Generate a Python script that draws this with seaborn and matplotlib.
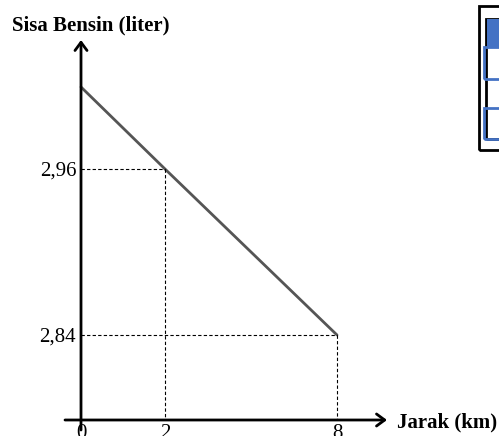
import numpy as np
import matplotlib
matplotlib.use("Agg")
import matplotlib.pyplot as plt
import seaborn as sns
from matplotlib.patches import Rectangle

# data
jarak = [0, 2, 8]            # km
sisa = [3.00, 2.96, 2.84]    # liter
xticks = [0, 2, 8]
xtick_labels = ["0", "2", "8"]
yticks = [2.84, 2.96]
ytick_labels = ["2,84", "2,96"]

sns.set_style("white")
plt.rcParams["font.family"] = ["Liberation Serif", "DejaVu Serif"]
plt.rcParams["text.color"] = "black"
plt.rcParams["xtick.color"] = "black"
plt.rcParams["ytick.color"] = "black"

W, H = 499, 436
fig = plt.figure(figsize=(W / 100, H / 100), dpi=100)
ax = fig.add_axes([0, 0, 1, 1])

# the sketch is not to scale -> piecewise scale mapping values to pixels
x_knots = [-10, 0, 2, 8, 20]
x_pix = [-339, 81, 165, 337, 681]
y_knots = [2.0, 2.84, 2.96, 3.00, 4.0]
y_pix = [-1061, 101, 267, 349, 2399]


def fx(v):
    return np.interp(v, x_knots, x_pix)


def fx_inv(p):
    return np.interp(p, x_pix, x_knots)


def fy(v):
    return np.interp(v, y_knots, y_pix)


def fy_inv(p):
    return np.interp(p, y_pix, y_knots)


ax.set_xscale("function", functions=(fx, fx_inv))
ax.set_yscale("function", functions=(fy, fy_inv))
ax.set_xlim(fx_inv(0), fx_inv(W))
ax.set_ylim(fy_inv(0), fy_inv(H))

y_base = float(fy_inv(16))  # value where the x axis crosses

sns.lineplot(x=jarak, y=sisa, ax=ax, color="#555555", lw=2)

# dashed guide lines
dash = dict(color="black", lw=0.8, ls=(0, (3, 2)))
for xv, yv in zip(jarak[1:], sisa[1:]):
    ax.plot([0, xv], [yv, yv], **dash)
    ax.plot([xv, xv], [yv, y_base], **dash)

# axes drawn as arrows
arr = dict(arrowstyle="->, head_length=0.42, head_width=0.31", lw=2,
           color="black", shrinkA=0, shrinkB=0, mutation_scale=14)
ax.annotate("", xy=(387, 16), xytext=(65, 16), xycoords="figure pixels",
            textcoords="figure pixels", arrowprops=arr)
ax.annotate("", xy=(81, 396), xytext=(81, 6), xycoords="figure pixels",
            textcoords="figure pixels", arrowprops=arr)

for s in ax.spines.values():
    s.set_visible(False)
ax.spines["left"].set_position(("data", 0))
ax.spines["bottom"].set_position(("data", y_base))
ax.set_xticks(xticks, xtick_labels)
ax.set_yticks(yticks, ytick_labels)
ax.minorticks_off()
ax.tick_params(axis="y", length=3, width=0.8, pad=0.5, labelsize=15)
ax.tick_params(axis="x", length=0, pad=3, labelsize=15)
ax.grid(False)

fig.text(12 / W, (H - 25) / H, "Sisa Bensin (liter)", fontsize=15,
         fontweight="bold", va="center", ha="left")
fig.text(397 / W, (H - 422) / H, "Jarak (km)", fontsize=15,
         fontweight="bold", va="center", ha="left")

# clipped table at the top right
blue = "#4472C4"


def box(x0, y0, x1, y1, **kw):
    fig.add_artist(Rectangle((x0 / W, (H - y1) / H), (x1 - x0) / W,
                             (y1 - y0) / H, transform=fig.transFigure, **kw))


box(479, 6, 520, 150, fill=False, ec="black", lw=2)
box(486, 19, 520, 139, fill=False, ec="black", lw=2)
box(487, 19, 520, 47, fc=blue, ec="none")
box(484, 47, 520, 79, fill=False, ec=blue, lw=2)
box(484, 108, 520, 139, fill=False, ec=blue, lw=2)

fig.savefig("out.png", dpi=100)
